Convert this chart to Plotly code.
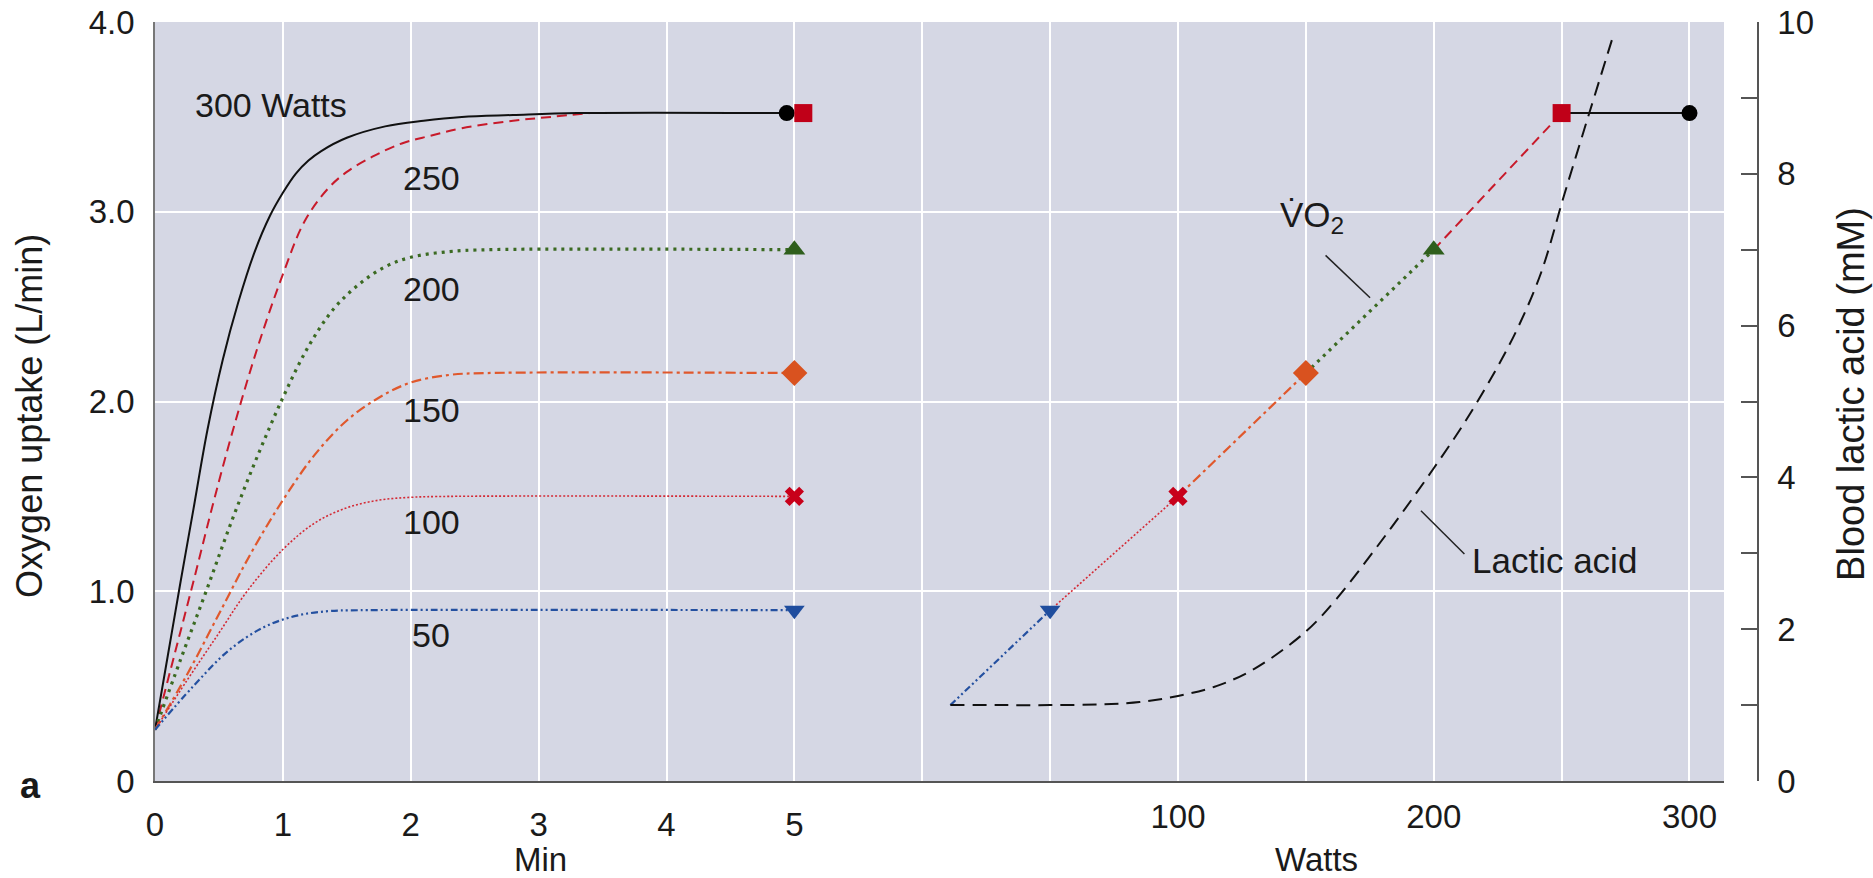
import plotly.graph_objects as go

# ---------------- data ----------------
# Left panel: oxygen uptake (L/min) vs time (min) for each work rate
t_300 = [0, 0.1, 0.2, 0.3, 0.41, 0.53, 0.65, 0.78, 0.9, 1.0, 1.1, 1.2, 1.3, 1.5, 1.8, 2.1, 2.4, 2.8, 3.3, 4.94]
v_300 = [0.27, 0.66, 1.05, 1.43, 1.85, 2.22, 2.52, 2.79, 2.98, 3.10, 3.20, 3.27, 3.32, 3.39, 3.45, 3.48, 3.50, 3.51, 3.52, 3.52]

t_250 = [0, 0.15, 0.3, 0.45, 0.61, 0.8, 1.0, 1.17, 1.35, 1.5, 1.7, 1.93, 2.15, 2.4, 2.8, 3.1, 3.4]
v_250 = [0.27, 0.66, 1.05, 1.45, 1.85, 2.28, 2.67, 2.95, 3.12, 3.21, 3.29, 3.36, 3.40, 3.44, 3.48, 3.50, 3.52]

t_200 = [0, 0.2, 0.4, 0.6, 0.8, 1.0, 1.2, 1.4, 1.6, 1.8, 2.0, 2.3, 2.6, 5.0]
v_200 = [0.27, 0.64, 1.00, 1.37, 1.71, 2.02, 2.29, 2.49, 2.62, 2.71, 2.76, 2.79, 2.80, 2.80]

t_150 = [0, 0.25, 0.5, 0.75, 1.0, 1.25, 1.5, 1.75, 2.0, 2.3, 2.6, 5.0]
v_150 = [0.27, 0.56, 0.88, 1.20, 1.48, 1.72, 1.90, 2.02, 2.10, 2.14, 2.15, 2.15]

t_100 = [0, 0.25, 0.5, 0.72, 1.0, 1.25, 1.5, 1.75, 2.0, 2.3, 5.0]
v_100 = [0.27, 0.53, 0.78, 1.00, 1.22, 1.36, 1.44, 1.48, 1.495, 1.50, 1.50]

t_50 = [0, 0.3, 0.58, 0.85, 1.1, 1.35, 1.6, 5.0]
v_50 = [0.27, 0.50, 0.69, 0.81, 0.87, 0.895, 0.90, 0.90]

# end-of-exercise markers (left panel)
end_t = [4.94, 5.07, 5.0, 5.0, 5.0, 5.0]
end_v = [3.52, 3.52, 2.80, 2.15, 1.50, 0.90]

# Right panel: steady-state VO2 (L/min) vs work rate (W)
watts = [11, 50, 100, 150, 200, 250, 300]
vo2 = [0.40, 0.90, 1.50, 2.15, 2.80, 3.52, 3.52]

# Blood lactic acid (mM) vs work rate (W)
lac_w = [11, 30, 50, 70, 85, 100, 115, 130, 150, 162, 177, 188, 200, 212, 224, 233, 242, 251, 261, 270]
lac_mm = [1.0, 1.0, 1.0, 1.01, 1.04, 1.12, 1.25, 1.48, 1.97, 2.40, 3.05, 3.55, 4.12, 4.72, 5.40, 5.98, 6.70, 7.72, 8.82, 9.80]

curve_labels = ["300 Watts", "250", "200", "150", "100", "50"]

# ---------------- styles ----------------
FONT = "Liberation Sans, Arial, Helvetica, sans-serif"
TXT = "#1a1a1a"
BG = "#d5d7e4"

styles = [  # (color, width, dash) per work rate 300..50
    ("#111111", 2.0, "solid"),
    ("#c81a2a", 2.0, "10px,6px"),
    ("#3b6a22", 3.2, "3px,5px"),
    ("#e0582c", 2.2, "10px,4px,3px,4px"),
    ("#d42a35", 1.6, "2px,2px"),
    ("#2450a0", 2.2, "7px,3px,2px,3px,2px,3px"),
]
mk_symbols = ["circle", "square", "triangle-up", "diamond", "x", "triangle-down"]
mk_colors = ["#000000", "#c00018", "#2e5e1c", "#d9521f", "#c8001a", "#1f4d9e"]
mk_sizes = [16, 18, 19, 20, 17, 18]

fig = go.Figure()

# left panel curves (draw 250 under 300)
left = [(t_300, v_300), (t_250, v_250), (t_200, v_200), (t_150, v_150), (t_100, v_100), (t_50, v_50)]
for i in [1, 0, 2, 3, 4, 5]:
    t, v = left[i]
    c, w, d = styles[i]
    fig.add_trace(go.Scatter(x=t, y=v, mode="lines",
                             line=dict(color=c, width=w, dash=d, shape="spline", smoothing=1.0),
                             xaxis="x", yaxis="y", showlegend=False, hoverinfo="skip"))

fig.add_trace(go.Scatter(x=end_t, y=end_v, mode="markers",
                         marker=dict(symbol=mk_symbols, color=mk_colors, size=mk_sizes, opacity=1,
                                     line=dict(width=0)),
                         xaxis="x", yaxis="y", showlegend=False))

# right panel VO2 segments, style matching the work rate at the upper end
seg_style = [styles[5], styles[4], styles[3], styles[2], styles[1], styles[0]]
for k in range(len(watts) - 1):
    c, w, d = seg_style[k]
    fig.add_trace(go.Scatter(x=watts[k:k + 2], y=vo2[k:k + 2], mode="lines", line=dict(color=c, width=w, dash=d),
                             xaxis="x2", yaxis="y", showlegend=False, hoverinfo="skip"))

# lactic acid
fig.add_trace(go.Scatter(x=lac_w, y=lac_mm, mode="lines",
                         line=dict(color="#111111", width=2, dash="14px,8px", shape="spline", smoothing=1.0),
                         xaxis="x2", yaxis="y2", showlegend=False))

# right panel markers
r_sym = ["triangle-down", "x", "diamond", "triangle-up", "square", "circle"]
r_col = ["#1f4d9e", "#c8001a", "#d9521f", "#2e5e1c", "#c00018", "#000000"]
r_size = [18, 17, 20, 19, 18, 16]
fig.add_trace(go.Scatter(x=watts[1:], y=vo2[1:], mode="markers",
                         marker=dict(symbol=r_sym, color=r_col, size=r_size, opacity=1, line=dict(width=0)),
                         xaxis="x2", yaxis="y", showlegend=False))

# ---------------- annotations ----------------
lab_t = [0.295, 2.16, 2.16, 2.16, 2.16, 2.16]
lab_v = [3.56, 3.18, 2.595, 1.955, 1.365, 0.77]
ann = []
for i, s in enumerate(curve_labels):
    ann.append(dict(x=lab_t[i], y=lab_v[i], xref="x", yref="y", text=s, showarrow=False,
                    xanchor="left" if i == 0 else "center", yanchor="middle",
                    font=dict(family=FONT, size=34, color=TXT)))

ann.append(dict(x=152.3, y=2.97, xref="x2", yref="y", text="V\u0307O<sub>2</sub>", showarrow=False,
                xanchor="center", yanchor="middle", font=dict(family=FONT, size=35, color=TXT)))
ann.append(dict(x=247.3, y=2.90, xref="x2", yref="y2", text="Lactic acid", showarrow=False,
                xanchor="center", yanchor="middle", font=dict(family=FONT, size=35, color=TXT)))

ann.append(dict(x=3.015, y=-0.1036, xref="x", yref="paper", text="Min", showarrow=False,
                xanchor="center", yanchor="middle", font=dict(family=FONT, size=33, color=TXT)))
ann.append(dict(x=154.2, y=-0.1036, xref="x2", yref="paper", text="Watts", showarrow=False,
                xanchor="center", yanchor="middle", font=dict(family=FONT, size=33, color=TXT)))
ann.append(dict(x=-0.078, y=0.481, xref="paper", yref="paper", text="Oxygen uptake (L/min)", textangle=-90,
                xanchor="center", yanchor="middle", showarrow=False, font=dict(family=FONT, size=36, color=TXT)))
ann.append(dict(x=1.058, y=0.51, xref="paper", yref="paper", text="Blood lactic acid (mM)", textangle=-90,
                xanchor="center", yanchor="middle", showarrow=False, font=dict(family=FONT, size=38, color=TXT)))
ann.append(dict(x=-0.0774, y=-0.006, xref="paper", yref="paper", text="<b>a</b>", showarrow=False,
                xanchor="center", yanchor="middle", font=dict(family=FONT, size=36, color=TXT)))

shapes = [
    dict(type="line", xref="x2", yref="y", x0=157.7, y0=2.77, x1=175.1, y1=2.547, line=dict(color="#222", width=1.5)),
    dict(type="line", xref="x2", yref="y2", x0=195.0, y0=3.56, x1=212.0, y1=2.99, line=dict(color="#222", width=1.5)),
]

XR = 12.27
fig.update_layout(
    width=1873, height=878,
    margin=dict(l=155, r=115, t=22, b=97, autoexpand=False),
    paper_bgcolor="white", plot_bgcolor=BG,
    annotations=ann, shapes=shapes,
    xaxis=dict(domain=[0, 0.9788], range=[0, XR], tickvals=list(range(13)),
               ticktext=["0", "1", "2", "3", "4", "5"] + [""] * 7,
               showgrid=True, gridcolor="white", gridwidth=1.5, zeroline=False,
               showline=True, linecolor="#555", linewidth=2, ticks="",
               tickfont=dict(family=FONT, size=33, color=TXT), ticklabelstandoff=13, anchor="y"),
    xaxis2=dict(overlaying="x", anchor="y", side="bottom", range=[-300, (XR - 6) * 50],
                tickvals=[100, 200, 300], showgrid=False, zeroline=False, showline=False, ticks="",
                tickfont=dict(family=FONT, size=33, color=TXT), ticklabelstandoff=13),
    yaxis=dict(domain=[0, 1], range=[0, 4], tickvals=[0, 1, 2, 3, 4], ticktext=["0", "1.0", "2.0", "3.0", "4.0"],
               showgrid=True, gridcolor="white", gridwidth=1.5, zeroline=False,
               showline=True, linecolor="#777", linewidth=1.5, ticks="",
               tickfont=dict(family=FONT, size=33, color=TXT), ticklabelstandoff=12, anchor="x"),
    yaxis2=dict(overlaying="y", side="right", anchor="free", position=1.0, range=[0, 10],
                tickvals=list(range(11)), ticktext=["0", "", "2", "", "4", "", "6", "", "8", "", "10"],
                ticks="inside", ticklen=16, tickwidth=1.5, tickcolor="#555",
                showline=True, linecolor="#555", linewidth=1.5, showgrid=False, zeroline=False,
                tickfont=dict(family=FONT, size=33, color=TXT), ticklabelstandoff=12),
)

fig.write_html("out.html", config={"displayModeBar": False},
               post_script="document.body.style.margin='0';document.body.style.overflow='hidden';")
